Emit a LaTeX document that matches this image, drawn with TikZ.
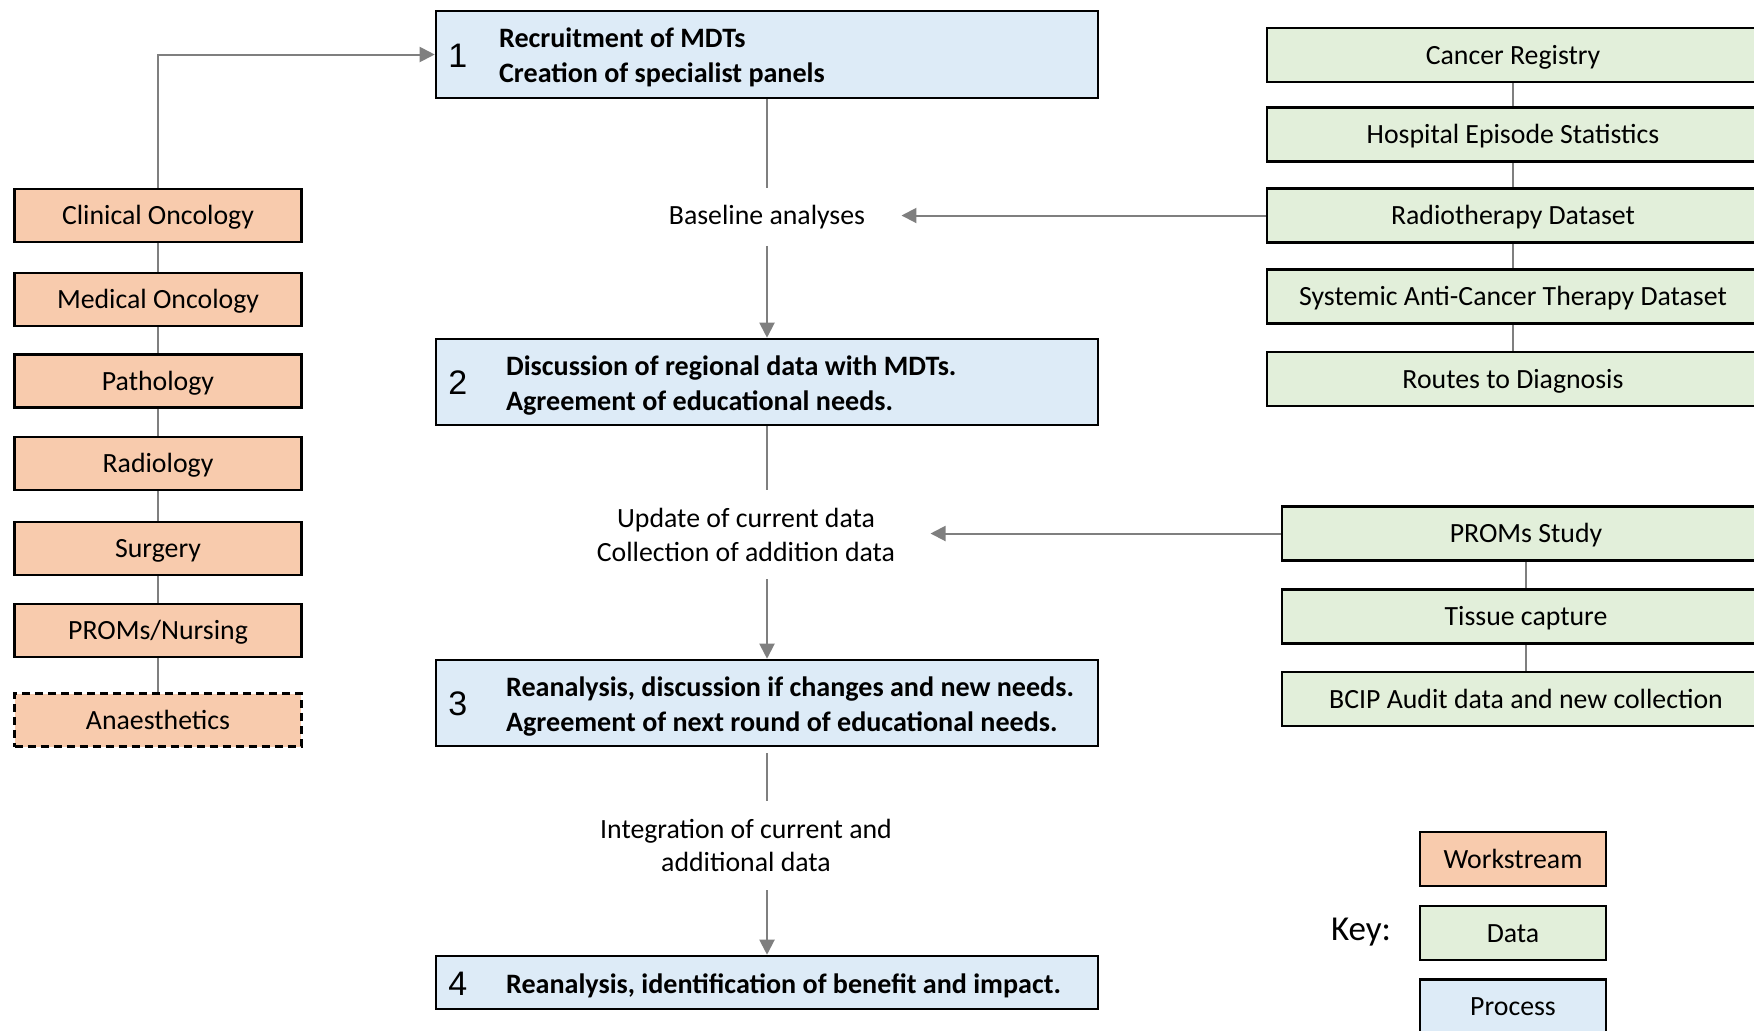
\documentclass[tikz,border=0pt]{standalone}
\usepackage{fontspec}
\setmainfont{Carlito}
\newfontfamily\numfont{Liberation Sans}
\usetikzlibrary{arrows.meta}

\definecolor{wsfill}{HTML}{F8CBAD}
\definecolor{datfill}{HTML}{E2EFDA}
\definecolor{procfill}{HTML}{DDEBF7}
\definecolor{linegray}{HTML}{7F7F7F}

\tikzset{
  box/.style={draw=black, line width=1.3pt, inner sep=0pt, align=center,
    text height=10.3pt, text depth=1pt,
    font=\fontsize{13.9}{17}\selectfont},
  ws/.style={box, fill=wsfill, minimum width=143.3pt, minimum height=26.5pt},
  datA/.style={box, fill=datfill, minimum width=246pt, minimum height=27pt},
  datB/.style={box, fill=datfill, minimum width=244pt, minimum height=27pt},
  proc/.style={box, fill=procfill, minimum width=331pt},
  keybox/.style={box, minimum width=93pt, minimum height=27pt},
  num/.style={font=\numfont\fontsize{17}{20}\selectfont, inner sep=0pt},
  ptext/.style={anchor=west, align=left, inner sep=0pt, yshift=-1.5pt,
    font=\fontsize{14.05}{17.5}\selectfont\bfseries},
  lbl/.style={align=center, inner ysep=0pt, font=\fontsize{13.9}{17}\selectfont},
  conn/.style={draw=linegray, line width=1pt},
  arr/.style={conn, -{Triangle[width=7.5pt,length=7.5pt]}},
}

\begin{document}
\begin{tikzpicture}[x=0.5pt, y=-0.5pt]
\useasboundingbox (0,0) rectangle (1754,1030);

% process column
\node[proc, minimum height=43.5pt] (p1) at (767,54.5) {};
\node[proc, minimum height=43pt]   (p2) at (767,382) {};
\node[proc, minimum height=43pt]   (p3) at (767,703) {};
\node[proc, minimum height=26.5pt] (p4) at (767,982.5) {};

\node[num] (n1) at ([xshift=11.5pt,yshift=-0.5pt]p1.west) {1};
\node[num] (n2) at ([xshift=11.5pt,yshift=-0.5pt]p2.west) {2};
\node[num] (n3) at ([xshift=11.5pt,yshift=-0.5pt]p3.west) {3};
\node[num] (n4) at ([xshift=11.5pt,yshift=-0.5pt]p4.west) {4};

\node[ptext] (t1) at ([xshift=32pt]p1.west) {Recruitment of MDTs\\Creation of specialist panels};
\node[ptext, yshift=-0.5pt] (t2) at ([xshift=35.5pt]p2.west) {Discussion of regional data with MDTs.\\Agreement of educational needs.};
\node[ptext, yshift=-0.5pt] (t3) at ([xshift=35.5pt]p3.west) {Reanalysis, discussion if changes and new needs.\\Agreement of next round of educational needs.};
\node[ptext] (t4) at ([xshift=35.5pt]p4.west) {Reanalysis, identification of benefit and impact.};

% intermediate labels
\node[lbl, minimum height=28.5pt, inner xsep=18pt] (base) at (767,217) {Baseline analyses};
\node[lbl, minimum height=44.5pt, inner xsep=17.5pt] (upd) at (746,534.5) {Update of current data\\Collection of addition data};
\node[lbl, minimum height=44.5pt, inner xsep=17.5pt, font=\fontsize{13.9}{16.3}\selectfont] (integ) at (746,845.5) {Integration of current and\\additional data};

% workstreams
\node[ws] (w1) at (158,215.5) {Clinical Oncology};
\node[ws] (w2) at (158,299.5) {Medical Oncology};
\node[ws] (w3) at (158,381)   {Pathology};
\node[ws] (w4) at (158,463.5) {Radiology};
\node[ws] (w5) at (158,548.5) {Surgery};
\node[ws] (w6) at (158,630.5) {PROMs/Nursing};
\node[ws, dash pattern=on 4pt off 2.5pt] (w7) at (158,720) {Anaesthetics};

% data sources
\node[datA] (d1) at (1513,55)    {Cancer Registry};
\node[datA] (d2) at (1513,134.5) {Hospital Episode Statistics};
\node[datA] (d3) at (1513,215.5) {Radiotherapy Dataset};
\node[datA] (d4) at (1513,296.5) {Systemic Anti-Cancer Therapy Dataset};
\node[datA] (d5) at (1513,379)   {Routes to Diagnosis};

\node[datB] (e1) at (1526,533.5) {PROMs Study};
\node[datB] (e2) at (1526,616.5) {Tissue capture};
\node[datB] (e3) at (1526,699)   {BCIP Audit data and new collection};

% key
\node[font=\fontsize{17.5}{20}\selectfont, inner sep=0pt] (key) at (1361,932.5) {Key:};
\node[keybox, fill=wsfill]   (k1) at (1513,859)    {Workstream};
\node[keybox, fill=datfill]  (k2) at (1513,933)    {Data};
\node[keybox, fill=procfill] (k3) at (1513,1006.5) {Process};

% connectors
\draw[arr] (w1.north) |- (p1.west);
\draw[conn] (p1.south) -- (base.north);
\draw[arr] (base.south) -- (p2.north);
\draw[arr] (d3.west) -- (d3.west -| base.east);

\draw[conn] (p2.south) -- (p2.south |- upd.north);
\draw[arr] (p2.south |- upd.south) -- (p3.north);
\draw[arr] (e1.west) -- (e1.west -| upd.east);

\draw[conn, shorten <=3pt] (p3.south) -- (p3.south |- integ.north);
\draw[arr] (p3.south |- integ.south) -- (p4.north);

\foreach \a/\b in {w1/w2, w2/w3, w3/w4, w4/w5, w5/w6, w6/w7,
                   d1/d2, d2/d3, d3/d4, d4/d5, e1/e2, e2/e3}
  \draw[conn] (\a.south) -- (\b.north);
\end{tikzpicture}
\end{document}
